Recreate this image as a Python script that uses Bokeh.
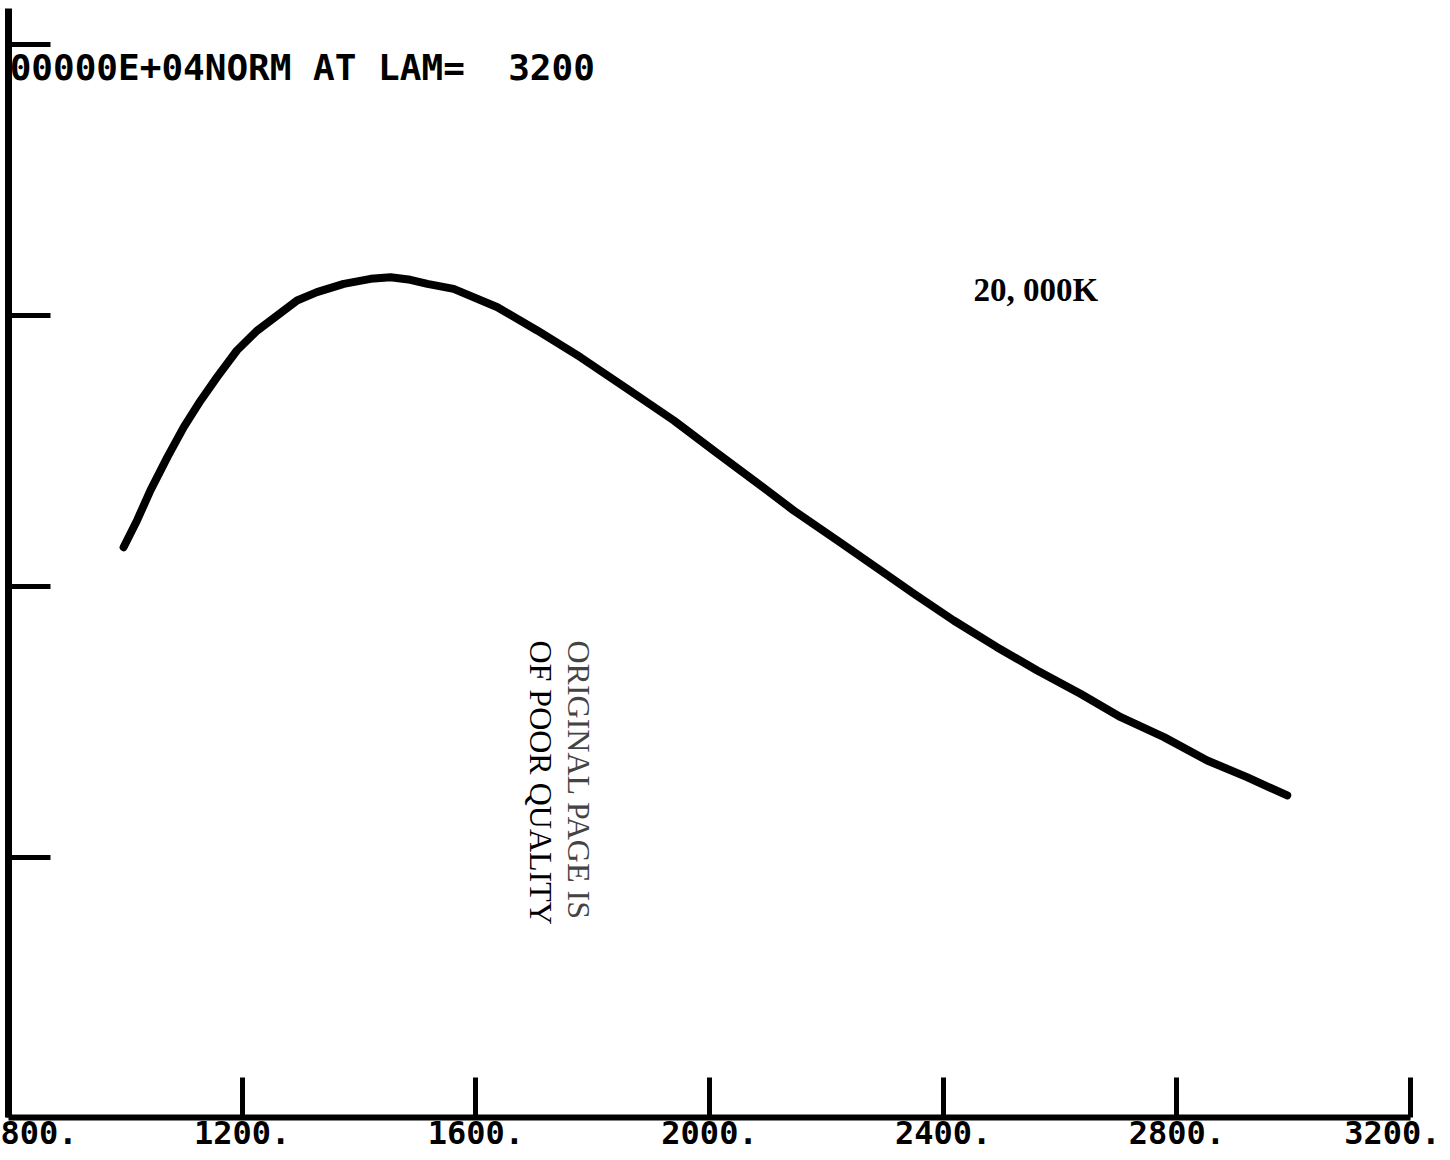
from bokeh.plotting import figure
from bokeh.models import Range1d, FixedTicker, ColumnDataSource, Label
from bokeh.embed import file_html
from bokeh.resources import INLINE
from bokeh.core.properties import value

# Data
wavelength = [997, 1020, 1043, 1072, 1100, 1129, 1157, 1191, 1226, 1260, 1294, 1328,
              1374, 1420, 1454, 1488, 1517, 1562, 1637, 1705, 1779, 1859, 1939, 2007,
              2076, 2144, 2219, 2293, 2350, 2418, 2492, 2561, 2635, 2704, 2778, 2852,
              2920, 2989]
flux = [5362, 5609, 5886, 6193, 6470, 6716, 6931, 7177, 7362, 7500, 7638, 7715,
        7792, 7838, 7853, 7829, 7792, 7746, 7576, 7362, 7115, 6824, 6531, 6255,
        5978, 5701, 5424, 5148, 4933, 4686, 4440, 4225, 4010, 3794, 3610, 3395,
        3241, 3072]

x_ticks = [800, 1200, 1600, 2000, 2400, 2800, 3200]
x_tick_labels = ["800.", "1200.", "1600.", "2000.", "2400.", "2800.", "3200."]
y_ticks = [2500, 5000, 7500, 10000]

title_text = "00000E+04NORM AT LAM=\u00a0 3200"
temp_label = "20, 000K"
stamp_line1 = "ORIGINAL PAGE IS"
stamp_line2 = "OF POOR QUALITY"

p = figure(width=1440, height=1159, output_backend="svg", toolbar_location=None,
           x_range=Range1d(800, 3200), y_range=Range1d(101, 10332),
           min_border_left=8, min_border_right=30, min_border_top=8, min_border_bottom=42)
p.outline_line_color = None
p.xgrid.visible = False
p.ygrid.visible = False
p.background_fill_color = "white"
p.border_fill_color = "white"

# x axis
p.xaxis.ticker = FixedTicker(ticks=x_ticks)
p.xaxis.major_label_overrides = {t: l for t, l in zip(x_ticks, x_tick_labels)}
p.xaxis.axis_line_width = 6
p.xaxis.axis_line_color = "black"
p.xaxis.major_tick_line_width = 5
p.xaxis.major_tick_line_color = "black"
p.xaxis.major_tick_in = 40
p.xaxis.major_tick_out = 0
p.xaxis.minor_tick_line_color = None
p.xaxis.major_label_standoff = 3
p.xaxis.major_label_text_font = "DejaVu Sans Mono"
p.xaxis.major_label_text_font_style = "bold"
p.xaxis.major_label_text_font_size = "32px"
p.xaxis.major_label_text_color = "black"

# y axis (ticks only, no labels)
p.yaxis.ticker = FixedTicker(ticks=y_ticks)
p.yaxis.major_label_overrides = {t: "" for t in y_ticks}
p.yaxis.axis_line_width = 7
p.yaxis.axis_line_color = "black"
p.yaxis.major_tick_line_width = 5
p.yaxis.major_tick_line_color = "black"
p.yaxis.major_tick_in = 42
p.yaxis.major_tick_out = 0
p.yaxis.minor_tick_line_color = None
p.yaxis.major_label_standoff = 0

src = ColumnDataSource(dict(x=wavelength, y=flux))
p.line("x", "y", source=src, line_color="black", line_width=8,
       line_join="round", line_cap="round")

tsrc = ColumnDataSource(dict(x=[802], y=[9787], t=[title_text]))
p.text("x", "y", text="t", source=tsrc, text_font=value("DejaVu Sans Mono"),
       text_font_style="bold", text_font_size="36px", text_color="black",
       text_align="left", text_baseline="alphabetic")

p.add_layout(Label(x=2452, y=7731, text=temp_label, text_font="Liberation Serif",
                   text_font_style="bold", text_font_size="33px", text_color="black",
                   text_align="left", text_baseline="alphabetic"))

p.add_layout(Label(x=1777, y=4502, text=stamp_line1, angle=-1.5707963, text_font="Liberation Serif",
                   text_font_size="32px", text_color="#444444",
                   text_align="left", text_baseline="alphabetic"))
p.add_layout(Label(x=1711, y=4502, text=stamp_line2, angle=-1.5707963, text_font="Liberation Serif",
                   text_font_size="32px", text_color="black",
                   text_align="left", text_baseline="alphabetic"))

open("out.html", "w").write(file_html(p, INLINE))
